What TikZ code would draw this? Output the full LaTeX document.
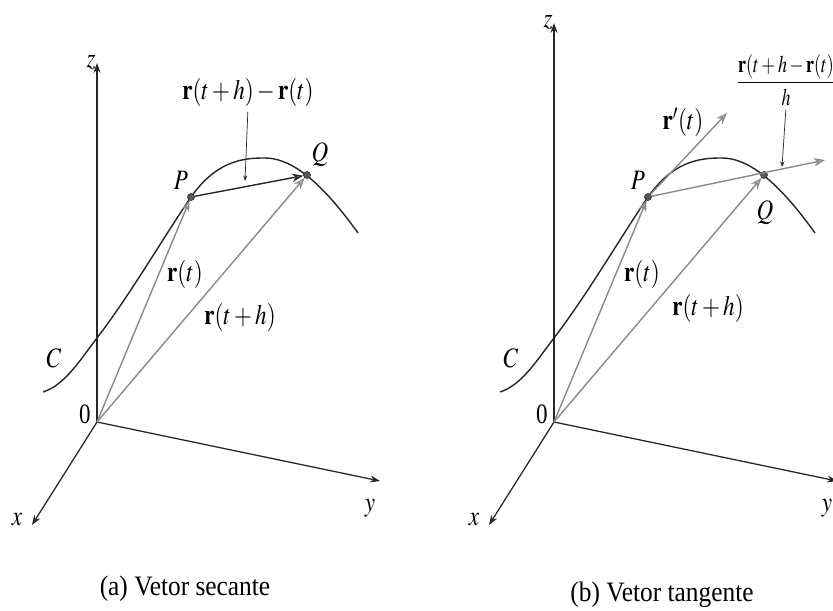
\documentclass[tikz,border=0pt]{standalone}
\usepackage{amsmath}
\usepackage{mathptmx}
\usepackage{fontspec}
\setmainfont{Liberation Serif}
\usetikzlibrary{arrows.meta, positioning}
\definecolor{cdark}{HTML}{262626}
\definecolor{cgray}{HTML}{8A8A8A}

\tikzset{
  lbl/.style={font=\fontsize{20}{22}\selectfont, xscale=0.82, inner sep=1pt},
  capt/.style={lbl, xscale=1.1, anchor=base},
  axis/.style={draw=cdark, line width=0.9pt, -{Stealth[length=7pt, width=5pt]}},
  curvec/.style={draw=cdark, line width=1pt},
  vec/.style={draw=cgray, line width=1pt, -{Stealth[open, length=8pt, width=6pt]}},
  sec/.style={vec, draw=cdark},
  ptr/.style={draw=cdark, line width=0.5pt, -{Stealth[length=4pt, width=3pt]}},
  dot/.style={circle, draw=cdark, fill=black!65, inner sep=0pt, minimum size=5pt},
}

\begin{document}
\begin{tikzpicture}[x=0.025cm, y=-0.025cm]
  \useasboundingbox (0,0) rectangle (833,610);
  % axes, curve C, P, Q and the two position vectors in both panels
  \foreach \p/\s/\zt in {a/0/63, b/457/23}{
    \coordinate (O\p) at (\s+97,422);
    \coordinate (z\p) at (\s+97,\zt);
    \coordinate (x\p) at (\s+32,525);
    \coordinate (y\p) at (\s+380,481);
    \draw[axis] (O\p) -- (z\p);
    \draw[axis] (O\p) -- (x\p);
    \draw[axis] (O\p) -- (y\p);
    \draw[curvec] (\s+43,392) .. controls (\s+65,385) and (\s+80,360) .. (\s+97,338)
      .. controls (\s+130,295) and (\s+165,235) .. (\s+191,197)
      .. controls (\s+215,163) and (\s+240,158) .. (\s+263,158)
      .. controls (\s+290,157) and (\s+320,180) .. (\s+358,233);
    \node[dot] (P\p) at (\s+191,197) {};
    \node[dot] (Q\p) at (\s+307,175) {};
    \draw[vec] (O\p) -- (P\p);
    \draw[vec] (O\p) -- (Q\p);
    \node[lbl, left=0pt of z\p] {$z$};
    \node[lbl] at (\s+85,414) {0};
    \node[lbl] at (\s+17,520) {$x$};
    \node[lbl] at (\s+370,508) {$y$};
    \node[lbl] at (\s+54,358) {$C$};
    \node[lbl] at (\s+181,180) {$P$};
    \node[lbl] at (\s+185,274) {$\mathbf{r}(t)$};
  }

  % (a) secant vector
  \draw[sec] (Pa) -- (Qa);
  \node[lbl] at (320,155) {$Q$};
  \node[lbl] at (240,317) {$\mathbf{r}(t+h)$};
  \node[lbl] (lsec) at (248,92) {$\mathbf{r}(t+h)-\mathbf{r}(t)$};
  \coordinate (s1) at (245,181);
  \draw[ptr, shorten <=3pt] (lsec.south) -- (s1);

  % (b) tangent vector
  \coordinate (tg) at (727,113);
  \coordinate (ext) at (825,160);
  \draw[vec] (Pb) -- (tg);
  \draw[vec] (Pb) -- (ext);
  \node[lbl] at (765,213) {$Q$};
  \node[lbl] at (708,308) {$\mathbf{r}(t+h)$};
  \node[lbl] at (683,122) {$\mathbf{r}'(t)$};
  \node[lbl, font=\fontsize{17}{19}\selectfont, xscale=0.92] (fr) at (786,80)
    {$\dfrac{\mathbf{r}(t+h-\mathbf{r}(t)}{h}$};
  \coordinate (s2) at (782,167);
  \draw[ptr, shorten <=2pt] (fr.south) -- (s2);

  \node[capt] at (185,595) {(a) Vetor secante};
  \node[capt] at (662,601) {(b) Vetor tangente};
\end{tikzpicture}
\end{document}
